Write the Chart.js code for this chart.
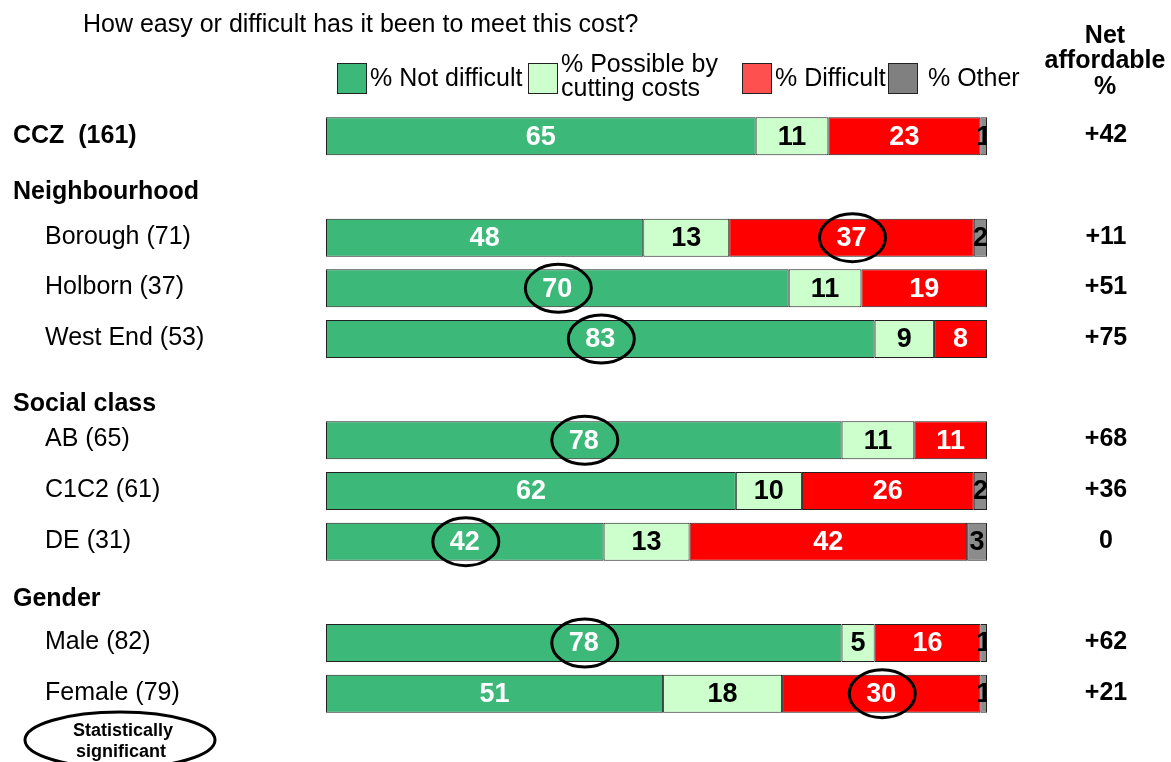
<!DOCTYPE html>
<html>
<head>
<meta charset="utf-8">
<script src="https://cdn.jsdelivr.net/npm/chart.js@4/dist/chart.umd.min.js"></script>
<style>
  html, body { margin: 0; padding: 0; background: #ffffff; }
  #wrap { position: relative; width: 1171px; height: 762px; }
</style>
</head>
<body>
<div id="wrap"><canvas id="chart"></canvas></div>
<script>
// Rows of the table: totals, section headings and sub-groups
const categories = ['CCZ  (161)', 'Neighbourhood', 'Borough (71)', 'Holborn (37)', 'West End (53)',
  'Social class', 'AB (65)', 'C1C2 (61)', 'DE (31)', 'Gender', 'Male (82)', 'Female (79)'];
const headingRows = ['Neighbourhood', 'Social class', 'Gender'];

// Share of respondents (%) per answer
const notDifficult = [65, null, 48, 70, 83, null, 78, 62, 42, null, 78, 51];
const possibleByCutting = [11, null, 13, 11, 9, null, 11, 10, 13, null, 5, 18];
const difficult = [23, null, 37, 19, 8, null, 11, 26, 42, null, 16, 30];
const other = [1, null, 2, 0, 0, null, 0, 2, 3, null, 1, 1];

// Net affordable % shown to the right of each bar
const netAffordable = [42, null, 11, 51, 75, null, 68, 36, 0, null, 62, 21];

// Statistically significant cells: [row index, series index]
const significant = [[2, 2], [3, 0], [4, 0], [6, 0], [8, 0], [10, 0], [11, 2]];

const seriesNames = ['% Not difficult', '% Possible by\ncutting costs', '% Difficult', '% Other'];
const seriesColors = ['#3cb878', '#ccffcc', '#ff0000', '#8c8c8c'];
const legendSwatchColors = ['#3cb878', '#ccffcc', '#ff5050', '#808080'];
const labelColors = ['#ffffff', '#000000', '#ffffff', '#000000'];

const titleText = 'How easy or difficult has it been to meet this cost?';
const netHeader = ['Net', 'affordable', '%'];
const keyText = ['Statistically', 'significant'];

const FONT = '"Liberation Sans", Arial, Helvetica, sans-serif';

function fmtNet(v) {
  if (v === null) return '';
  return v > 0 ? '+' + v : String(v);
}

// headings sit a little below the empty row they occupy (fraction of a row)
const headingShift = { 'Neighbourhood': 0.1, 'Social class': 0.28, 'Gender': 0.13 };

const annotations = {
  id: 'annotations',
  afterDatasetsDraw(chart) {
    const ctx = chart.ctx;
    const area = chart.chartArea;
    // values inside segments, clipped to the plot area
    ctx.save();
    ctx.beginPath();
    ctx.rect(area.left, area.top, area.right - area.left, area.bottom - area.top);
    ctx.clip();
    ctx.font = 'bold 27px ' + FONT;
    ctx.textAlign = 'center';
    ctx.textBaseline = 'middle';
    chart.data.datasets.forEach((ds, di) => {
      const meta = chart.getDatasetMeta(di);
      meta.data.forEach((el, i) => {
        const v = ds.data[i];
        if (v === null || v === 0) return;
        const cx = (el.x + el.base) / 2;
        ctx.fillStyle = labelColors[di];
        ctx.fillText(String(v), cx, el.y + 1);
      });
    });
    ctx.restore();

    // rings around significant values
    ctx.save();
    ctx.strokeStyle = '#000000';
    ctx.lineWidth = 3;
    significant.forEach(([row, di]) => {
      const el = chart.getDatasetMeta(di).data[row];
      const cx = (el.x + el.base) / 2;
      ctx.beginPath();
      ctx.ellipse(cx + 1, el.y, 33, 24, 0, 0, Math.PI * 2);
      ctx.stroke();
    });
    ctx.restore();
  },
  afterDraw(chart) {
    const ctx = chart.ctx;
    const y = chart.scales.y;
    const rowH = y.getPixelForValue(1) - y.getPixelForValue(0);
    ctx.save();
    ctx.textBaseline = 'middle';
    ctx.fillStyle = '#000000';

    // title
    ctx.textAlign = 'left';
    ctx.font = '25px ' + FONT;
    ctx.fillText(titleText, 83, 25);

    // row labels
    categories.forEach((name, i) => {
      const cy = y.getPixelForValue(i);
      if (headingRows.includes(name)) {
        ctx.font = 'bold 25px ' + FONT;
        ctx.fillText(name, 13, cy + rowH * headingShift[name]);
      } else if (i === 0) {
        ctx.font = 'bold 25px ' + FONT;
        ctx.fillText(name, 13, cy);
      } else {
        ctx.font = '25px ' + FONT;
        ctx.fillText(name, 45, cy - 1);
      }
    });

    // net affordable column
    ctx.textAlign = 'center';
    ctx.font = 'bold 25px ' + FONT;
    netHeader.forEach((t, k) => ctx.fillText(t, 1105, 36 + k * 25.5));
    netAffordable.forEach((v, i) => {
      if (v === null) return;
      ctx.fillText(fmtNet(v), 1106, y.getPixelForValue(i) - 1);
    });

    // legend
    const legendX = [337, 528, 742, 888];
    const textGap = [4, 4, 4, 11];
    ctx.textAlign = 'left';
    ctx.font = '25px ' + FONT;
    seriesNames.forEach((name, k) => {
      ctx.fillStyle = legendSwatchColors[k];
      ctx.fillRect(legendX[k], 63, 29, 30);
      ctx.strokeStyle = '#222222';
      ctx.lineWidth = 1;
      ctx.strokeRect(legendX[k] + 0.5, 63.5, 29, 30);
      ctx.fillStyle = '#000000';
      const lines = name.split('\n');
      const tx = legendX[k] + 29 + textGap[k];
      if (lines.length === 1) {
        ctx.fillText(lines[0], tx, 79);
      } else {
        ctx.fillText(lines[0], tx, 65);
        ctx.fillText(lines[1], tx, 89);
      }
    });

    // key for the rings
    ctx.strokeStyle = '#000000';
    ctx.lineWidth = 3;
    ctx.beginPath();
    ctx.ellipse(120, 740, 95, 28, 0, 0, Math.PI * 2);
    ctx.stroke();
    ctx.textAlign = 'center';
    ctx.font = 'bold 18px ' + FONT;
    ctx.fillText(keyText[0], 123, 731);
    ctx.fillText(keyText[1], 121, 752);
    ctx.restore();
  }
};

new Chart(document.getElementById('chart'), {
  type: 'bar',
  data: {
    labels: categories,
    datasets: [notDifficult, possibleByCutting, difficult, other].map((d, k) => ({
      label: seriesNames[k],
      data: d,
      backgroundColor: seriesColors[k],
      borderColor: '#222222',
      borderWidth: 1,
      borderSkipped: false,
      barPercentage: 0.75,
      categoryPercentage: 1
    }))
  },
  options: {
    indexAxis: 'y',
    responsive: true,
    maintainAspectRatio: false,
    animation: false,
    layout: { padding: { left: 326, right: 184, top: 111, bottom: 43 } },
    scales: {
      x: { stacked: true, min: 0, max: 100, display: false },
      y: { stacked: true, display: false }
    },
    plugins: {
      legend: { display: false },
      tooltip: { enabled: false }
    }
  },
  plugins: [annotations]
});
</script>
</body>
</html>
